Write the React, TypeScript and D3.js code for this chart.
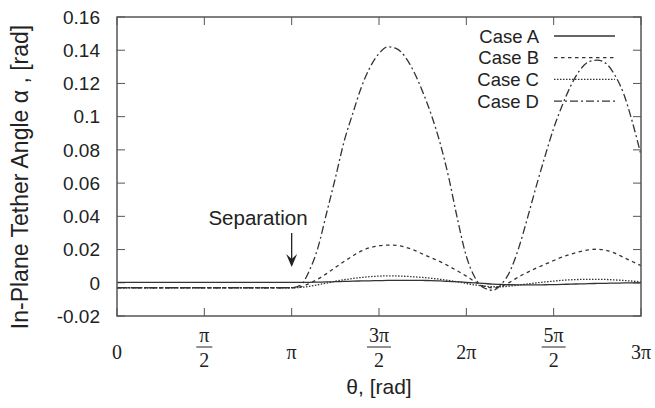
import React from "react";
import * as d3 from "d3";

// Orbit angle samples, in multiples of π
const thetaOverPi = [
  0, 0.5, 1.0, 1.05, 1.1, 1.15, 1.2, 1.25, 1.3, 1.35, 1.4, 1.45, 1.5, 1.55, 1.6,
  1.65, 1.7, 1.75, 1.8, 1.85, 1.9, 1.95, 2.0, 2.05, 2.1, 2.15, 2.2, 2.25, 2.3,
  2.35, 2.4, 2.45, 2.5, 2.55, 2.6, 2.65, 2.7, 2.75, 2.8, 2.85, 2.9, 2.95, 3.0,
];

const caseA = [
  0.0002, 0.0002, 0.0002, 0.0002, 0.0003, 0.0004, 0.0005, 0.0007, 0.0008, 0.001,
  0.0011, 0.0012, 0.0013, 0.0014, 0.0014, 0.0015, 0.0015, 0.0014, 0.0013, 0.0011,
  0.0009, 0.0006, 0.0003, -0.0001, -0.0004, -0.0008, -0.001, -0.0012, -0.0013,
  -0.0013, -0.0013, -0.0012, -0.0011, -0.001, -0.0008, -0.0007, -0.0005, -0.0004,
  -0.0003, -0.0002, -0.0001, 0.0, 0.0,
];

const caseB = [
  -0.003, -0.003, -0.003, -0.0025, -0.0005, 0.0022, 0.0055, 0.0092, 0.0128,
  0.0162, 0.0192, 0.0212, 0.0223, 0.0227, 0.0225, 0.0215, 0.0197, 0.0173, 0.015,
  0.0127, 0.01, 0.0071, 0.004, 0.0006, -0.002, -0.0031, -0.0022, 0.0004, 0.0036,
  0.0063, 0.0088, 0.0111, 0.0134, 0.0155, 0.0173, 0.0188, 0.0198, 0.0202, 0.0196,
  0.0178, 0.0153, 0.0128, 0.0103,
];

const caseC = [
  -0.003, -0.003, -0.003, -0.0028, -0.0022, -0.0012, -0.0002, 0.0009, 0.0018,
  0.0026, 0.0032, 0.0037, 0.004, 0.0042, 0.0041, 0.0039, 0.0036, 0.0032, 0.0027,
  0.0021, 0.0014, 0.0005, -0.0004, -0.0013, -0.002, -0.0024, -0.0024, -0.002,
  -0.0014, -0.0007, -0.0001, 0.0005, 0.001, 0.0015, 0.0018, 0.002, 0.0021, 0.0021,
  0.002, 0.0017, 0.0014, 0.001, 0.0006,
];

const caseD = [
  -0.003, -0.003, -0.003, -0.0015, 0.007, 0.021, 0.042, 0.063, 0.085, 0.102,
  0.118, 0.13, 0.138, 0.142, 0.141, 0.136, 0.127, 0.115, 0.101, 0.084, 0.063,
  0.038, 0.016, 0.003, -0.003, -0.0045, -0.001, 0.007, 0.021, 0.039, 0.058, 0.076,
  0.093, 0.107, 0.119, 0.128, 0.133, 0.134, 0.132, 0.125, 0.114, 0.097, 0.077,
];

const seriesNames = ["Case A", "Case B", "Case C", "Case D"];
const seriesValues = [caseA, caseB, caseC, caseD];
const seriesDash = ["none", "3.5,3.5", "1.5,1.5", "8,3,2,3"];

const yTicks = [-0.02, 0, 0.02, 0.04, 0.06, 0.08, 0.1, 0.12, 0.14, 0.16];
const yTickLabels = ["-0.02", "0", "0.02", "0.04", "0.06", "0.08", "0.1", "0.12", "0.14", "0.16"];

const xTicksOverPi = [0, 0.5, 1, 1.5, 2, 2.5, 3];
const xTickNumerators = ["0", "π", "π", "3π", "2π", "5π", "3π"];
const xTickDenominators = ["", "2", "", "2", "", "2", ""];

const separationOverPi = 1;

const W = 655;
const H = 408;
const left = 117;
const right = 641;
const top = 17;
const bottom = 316;

const SANS = "'Liberation Sans', Arial, Helvetica, sans-serif";
const SERIF = "'Liberation Serif', 'Times New Roman', serif";
const FRAME = "#555";
const INK = "#222";
const LINE = "#333";

export default function App() {
  const x = d3.scaleLinear().domain([0, 3 * Math.PI]).range([left, right]);
  const y = d3.scaleLinear().domain([-0.02, 0.16]).range([bottom, top]);

  const line = d3
    .line<[number, number]>()
    .x((d) => x(d[0] * Math.PI))
    .y((d) => y(d[1]))
    .curve(d3.curveMonotoneX);

  const tickLen = 8;
  const sepX = x(separationOverPi * Math.PI);

  return (
    <svg
      width={W}
      height={H}
      style={{ position: "absolute", left: 0, top: 0, background: "#fff" }}
    >
      <defs>
        <clipPath id="plotArea">
          <rect x={left} y={top} width={right - left} height={bottom - top} />
        </clipPath>
      </defs>

      {/* mirrored ticks on all four sides */}
      <g stroke={FRAME} strokeWidth={1}>
        {yTicks.map((v, i) => (
          <g key={"yt" + i}>
            <line x1={left} x2={left + tickLen} y1={y(v)} y2={y(v)} />
            <line x1={right} x2={right - tickLen} y1={y(v)} y2={y(v)} />
          </g>
        ))}
        {xTicksOverPi.map((v, i) => (
          <g key={"xt" + i}>
            <line x1={x(v * Math.PI)} x2={x(v * Math.PI)} y1={bottom} y2={bottom - tickLen} />
            <line x1={x(v * Math.PI)} x2={x(v * Math.PI)} y1={top} y2={top + tickLen} />
          </g>
        ))}
      </g>

      {/* y tick labels */}
      <g fontFamily={SANS} fontSize={19} fill={INK} textAnchor="end">
        {yTicks.map((v, i) => (
          <text key={"yl" + i} x={left - 17} y={y(v) + 6.8}>
            {yTickLabels[i]}
          </text>
        ))}
      </g>

      {/* x tick labels, fractions stacked */}
      <g fontFamily={SERIF} fontSize={20} fill={INK} textAnchor="middle">
        {xTicksOverPi.map((v, i) => {
          const cx = x(v * Math.PI);
          if (!xTickDenominators[i]) {
            return (
              <text key={"xl" + i} x={cx} y={359}>
                {xTickNumerators[i]}
              </text>
            );
          }
          const bw = xTickNumerators[i].length > 1 ? 24 : 16;
          return (
            <g key={"xl" + i}>
              <text x={cx} y={342}>
                {xTickNumerators[i]}
              </text>
              <line
                x1={cx - bw / 2}
                x2={cx + bw / 2}
                y1={347}
                y2={347}
                stroke={INK}
                strokeWidth={1}
              />
              <text x={cx} y={367}>
                {xTickDenominators[i]}
              </text>
            </g>
          );
        })}
      </g>

      {/* axis titles */}
      <text
        x={(left + right) / 2}
        y={394}
        fontFamily={SANS}
        fontSize={21}
        fill={INK}
        textAnchor="middle"
      >
        θ, [rad]
      </text>
      <text
        transform={`translate(28, 177) rotate(-90)`}
        fontFamily={SANS}
        fontSize={23}
        fill={INK}
        textAnchor="middle"
      >
        In-Plane Tether Angle α , [rad]
      </text>

      {/* curves */}
      <g clipPath="url(#plotArea)" fill="none" stroke={LINE} strokeWidth={1.3}>
        {seriesValues.map((vals, i) => (
          <path
            key={"s" + i}
            d={line(thetaOverPi.map((t, j) => [t, vals[j]] as [number, number])) || ""}
            strokeDasharray={seriesDash[i]}
          />
        ))}
      </g>

      {/* legend */}
      <g fontFamily={SANS} fontSize={18.5} fill={INK}>
        {seriesNames.map((name, i) => {
          const ly = 36 + i * 21.7;
          return (
            <g key={"lg" + i}>
              <text x={539} y={ly + 6.5} textAnchor="end">
                {name}
              </text>
              <line
                x1={554}
                x2={615}
                y1={ly}
                y2={ly}
                stroke={LINE}
                strokeWidth={1.3}
                strokeDasharray={seriesDash[i]}
              />
            </g>
          );
        })}
      </g>

      {/* separation annotation */}
      <text x={258} y={225} fontFamily={SANS} fontSize={20.5} fill={INK} textAnchor="middle">
        Separation
      </text>
      <line x1={sepX} x2={sepX} y1={233} y2={265} stroke={INK} strokeWidth={1.3} />
      <path
        d={`M${sepX - 5.5},${254} L${sepX},${267} L${sepX + 5.5},${254} L${sepX},${259} Z`}
        fill={INK}
      />

      {/* frame */}
      <rect
        x={left}
        y={top}
        width={right - left}
        height={bottom - top}
        fill="none"
        stroke={FRAME}
        strokeWidth={1.5}
      />
    </svg>
  );
}
